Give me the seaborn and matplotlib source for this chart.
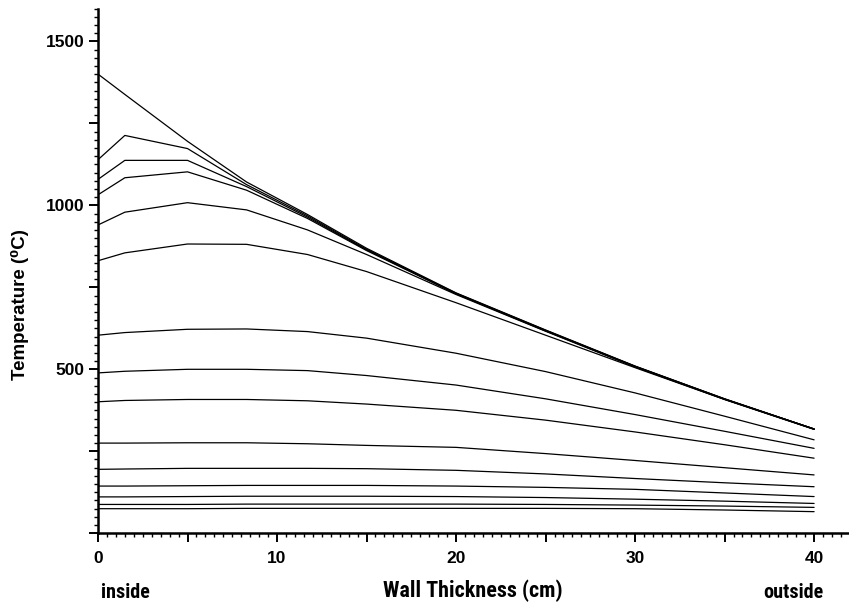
import numpy as np
import pandas as pd
import matplotlib
matplotlib.use("Agg")
import matplotlib.pyplot as plt
import seaborn as sns
from matplotlib import font_manager
from matplotlib.ticker import MultipleLocator, FuncFormatter

# ---- data ----
x_cm = [0, 1.5, 5, 8.3, 11.7, 15, 20, 25, 30, 35, 40]

T1 = [1400, 1338, 1195, 1071, 972, 869, 733, 620, 510, 410, 318]
T2 = [1139, 1213, 1173, 1063, 968, 866, 732, 619, 509, 410, 318]
T3 = [1079, 1137, 1137, 1057, 964, 864, 731, 618, 509, 409, 318]
T4 = [1032, 1084, 1102, 1046, 960, 862, 730, 617, 508, 409, 318]
T5 = [940, 979, 1008, 986, 925, 850, 728, 616, 507, 408, 317]
T6 = [831, 855, 882, 881, 850, 798, 703, 604, 505, 408, 317]
T7 = [604, 612, 622, 623, 615, 595, 549, 493, 428, 357, 285]
T8 = [489, 494, 500, 500, 496, 481, 452, 410, 362, 311, 259]
T9 = [401, 405, 408, 408, 404, 394, 375, 345, 309, 270, 229]
T10 = [275, 275, 276, 276, 273, 268, 262, 243, 222, 200, 178]
T11 = [195, 196, 198, 198, 198, 197, 192, 181, 167, 154, 142]
T12 = [144, 144, 145, 146, 146, 146, 144, 140, 134, 123, 112]
T13 = [111, 111, 112, 113, 113, 113, 112, 109, 104, 98, 91]
T14 = [88, 88, 88, 89, 89, 89, 89, 88, 86, 83, 79]
T15 = [75, 75, 75, 76, 76, 76, 76, 76, 75, 71, 66]

curves = [T1, T2, T3, T4, T5, T6, T7, T8, T9, T10, T11, T12, T13, T14, T15]

x_major_labels = [0, 10, 20, 30, 40]
y_major_labels = [500, 1000, 1500]

rows = []
for i, c in enumerate(curves):
    for xv, tv in zip(x_cm, c):
        rows.append({"curve": i, "x": xv, "T": tv})
df = pd.DataFrame(rows)

# ---- fonts ----
sns.set_theme(style="white")
plt.rcParams["font.family"] = ["Liberation Sans", "DejaVu Sans"]
for k in ["text.color", "axes.labelcolor", "xtick.color", "ytick.color"]:
    plt.rcParams[k] = "black"

available = {f.name for f in font_manager.fontManager.ttflist}
cond_family = None
cond_stretch = "normal"
for cand in ["Liberation Sans Narrow", "DejaVu Sans Condensed", "Roboto Condensed",
             "Open Sans Condensed"]:
    if cand in available:
        cond_family = cand
        break
if cond_family is None:
    has_cond = any(f.name == "DejaVu Sans" and str(f.stretch) in ("condensed", "semi-condensed")
                   for f in font_manager.fontManager.ttflist)
    if has_cond:
        cond_family = "DejaVu Sans"
        cond_stretch = "condensed"
cond_size = 14.5
title_size = 15.8
if cond_family is None:
    cond_family = "Liberation Sans"
    cond_size = 12.5
    title_size = 13

# ---- figure ----
W, H = 849, 606
fig = plt.figure(figsize=(W / 100, H / 100), dpi=100)
ax = fig.add_axes([98 / W, 72.7 / H, 751 / W, 524.8 / H])

sns.lineplot(data=df, x="x", y="T", units="curve", estimator=None,
             color="black", linewidth=0.9, ax=ax, legend=False)

ax.set_xlim(0, 41.95)
ax.set_ylim(0, 1600)

for s in ["top", "right"]:
    ax.spines[s].set_visible(False)
for s in ["left", "bottom"]:
    ax.spines[s].set_linewidth(1.8)
    ax.spines[s].set_color("black")

ax.xaxis.set_major_locator(MultipleLocator(5))
ax.xaxis.set_minor_locator(MultipleLocator(0.5))
ax.yaxis.set_major_locator(MultipleLocator(250))
ax.yaxis.set_minor_locator(MultipleLocator(25))

ax.xaxis.set_major_formatter(FuncFormatter(
    lambda v, p: f"{int(round(v))}" if int(round(v)) in x_major_labels else ""))
ax.yaxis.set_major_formatter(FuncFormatter(
    lambda v, p: f"{int(round(v))}" if int(round(v)) in y_major_labels else ""))

ax.tick_params(which="major", direction="out", length=6.5, width=1.4,
               color="black", labelsize=12.5, labelcolor="black",
               bottom=True, left=True)
ax.tick_params(which="minor", direction="out", length=3, width=1.0,
               color="black", bottom=True, left=True)
ax.tick_params(axis="x", which="major", pad=6)
ax.tick_params(axis="y", which="major", pad=3)
for lab in ax.get_xticklabels() + ax.get_yticklabels():
    lab.set_fontweight("bold")

ax.set_xlabel("")
ax.set_ylabel("")
ax.grid(False)

# axis titles
fig.text(20 / W, 1 - 305 / H, "Temperature (\u2070C)", rotation=90,
         ha="center", va="center", fontsize=13.5, fontweight="bold",
         color="black", family=["Liberation Sans", "DejaVu Sans"])

cond = [cond_family, "DejaVu Sans"]
fig.text(473 / W, 1 - 591 / H, "Wall Thickness (cm)", ha="center", va="center",
         fontsize=title_size, fontweight="bold", fontstretch=cond_stretch,
         color="black", family=cond)
fig.text(101 / W, 1 - 592 / H, "inside", ha="left", va="center",
         fontsize=cond_size, fontweight="bold", fontstretch=cond_stretch,
         color="black", family=cond)
fig.text(763 / W, 1 - 592 / H, "outside", ha="left", va="center",
         fontsize=cond_size, fontweight="bold", fontstretch=cond_stretch,
         color="black", family=cond)

fig.savefig("out.png", dpi=100, facecolor="white")
